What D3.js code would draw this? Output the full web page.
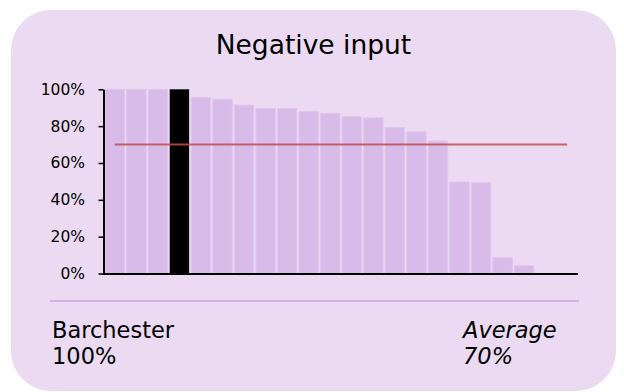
<!DOCTYPE html>
<html>
<head>
<meta charset="utf-8">
<script src="https://cdn.jsdelivr.net/npm/d3@7"></script>
<style>
  html, body { margin: 0; padding: 0; background: #ffffff; }
  svg { display: block; }
</style>
</head>
<body>
<svg id="chart" width="624" height="392"></svg>
<script>
// ---- data ----
const title = "Negative input";
const schools = ["S1","S2","S3","Barchester","S5","S6","S7","S8","S9","S10","S11",
                 "S12","S13","S14","S15","S16","S17","S18","S19","S20","S21","S22"];
const values = [100, 100, 100, 100, 95.5, 94.6, 91.4, 89.6, 89.6, 87.9, 86.9,
                85.2, 84.5, 79.3, 76.9, 71.9, 49.7, 49.2, 8.6, 4.3, null, null];
const highlight = "Barchester";
const highlightValue = 100;
const average = 70;
const yTicks = [0, 20, 40, 60, 80, 100];

// ---- layout ----
const svg = d3.select("#chart");
const plot = { left: 104, right: 578, top: 89.3, bottom: 273.5 };

// card
svg.append("rect")
  .attr("x", 11).attr("y", 10).attr("width", 605).attr("height", 381)
  .attr("rx", 40).attr("ry", 40)
  .attr("fill", "#ebdaf2");

// title
svg.append("text")
  .attr("x", 313.5).attr("y", 54)
  .attr("text-anchor", "middle")
  .attr("font-family", "DejaVu Sans")
  .attr("font-size", 26.5)
  .attr("fill", "#000")
  .text(title);

const x = d3.scaleBand()
  .domain(schools)
  .range([plot.left, plot.right])
  .paddingInner(0.1)
  .paddingOuter(0.05);

const y = d3.scaleLinear()
  .domain([0, 100])
  .range([plot.bottom, plot.top]);

// bars
const data = schools.map((s, i) => ({ name: s, value: values[i] })).filter(d => d.value != null);
svg.append("g").selectAll("rect")
  .data(data)
  .join("rect")
  .attr("x", d => x(d.name))
  .attr("y", d => y(d.value))
  .attr("width", x.bandwidth())
  .attr("height", d => y(0) - y(d.value))
  .attr("fill", d => d.name === highlight ? "#000000" : "#d8bbe8")
  .attr("stroke", d => d.name === highlight ? "none" : "#dfc8ed")
  .attr("stroke-width", 1);

// average line
svg.append("line")
  .attr("x1", x(schools[0]) + x.bandwidth() / 2)
  .attr("x2", x(schools[schools.length - 1]) + x.bandwidth() / 2)
  .attr("y1", y(average)).attr("y2", y(average))
  .attr("stroke", "#c0504d")
  .attr("stroke-opacity", 0.85)
  .attr("stroke-width", 2);

// y axis
const yAxis = d3.axisLeft(y)
  .tickValues(yTicks)
  .tickFormat(d => d + "%")
  .tickSize(5)
  .tickSizeOuter(0)
  .tickPadding(13.5);
const gy = svg.append("g")
  .attr("transform", `translate(${plot.left - 0.5},0)`)
  .call(yAxis);
gy.select(".domain").attr("stroke", "#000").attr("stroke-width", 2);
gy.selectAll(".tick line").attr("stroke", "#000").attr("stroke-width", 1.5);
gy.selectAll(".tick text")
  .attr("font-family", "DejaVu Sans")
  .attr("font-size", 15.5)
  .attr("fill", "#000");

// x axis (no labels)
const xAxis = d3.axisBottom(x).tickSize(0).tickFormat("");
const gx = svg.append("g")
  .attr("transform", `translate(0,${plot.bottom + 0.5})`)
  .call(xAxis);
gx.select(".domain").attr("stroke", "#000").attr("stroke-width", 2)
  .attr("d", `M${plot.left - 1.5},0H${plot.right}`);

// separator
svg.append("line")
  .attr("x1", 50).attr("x2", 579)
  .attr("y1", 301).attr("y2", 301)
  .attr("stroke", "#d4b2e6")
  .attr("stroke-width", 2);

// footer texts
const foot = svg.append("g")
  .attr("font-family", "DejaVu Sans")
  .attr("font-size", 22.5)
  .attr("fill", "#000");
foot.append("text").attr("x", 52).attr("y", 338).text(highlight);
foot.append("text").attr("x", 52).attr("y", 364).text(highlightValue + "%");
foot.append("text").attr("x", 463).attr("y", 338).attr("font-style", "italic").text("Average");
foot.append("text").attr("x", 463).attr("y", 364).attr("font-style", "italic").text(average + "%");
</script>
</body>
</html>
